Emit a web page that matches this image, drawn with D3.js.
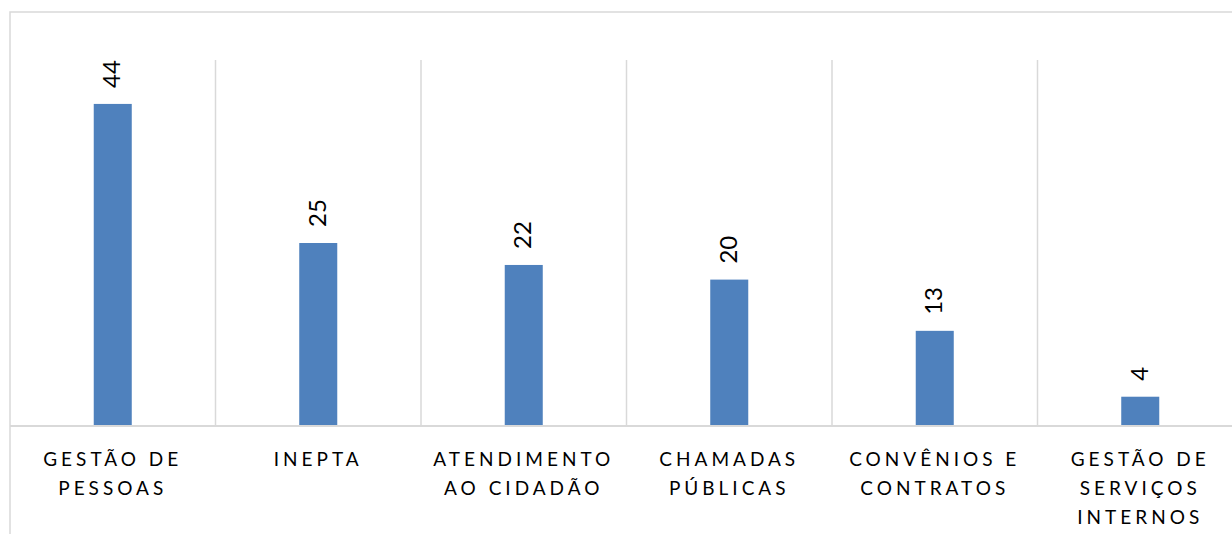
<!DOCTYPE html>
<html>
<head>
<meta charset="utf-8">
<script src="https://cdn.jsdelivr.net/npm/d3@7"></script>
<style>
  body { margin: 0; background: #fff; }
  svg { display: block; }
</style>
</head>
<body>
<div id="chart"></div>
<script>
// data
const categories = ["GESTÃO DE PESSOAS", "INEPTA", "ATENDIMENTO AO CIDADÃO", "CHAMADAS PÚBLICAS", "CONVÊNIOS E CONTRATOS", "GESTÃO DE SERVIÇOS INTERNOS"];
const values = [44, 25, 22, 20, 13, 4];
const yDomain = [0, 50];

const width = 1232, height = 534;
const plot = { left: 10, right: 1243, top: 60, bottom: 426 };
const gridColor = "#d9d9d9";

const svg = d3.select("#chart").append("svg")
  .attr("width", width)
  .attr("height", height);

const x = d3.scaleBand().domain(categories).range([plot.left, plot.right]);
const y = d3.scaleLinear().domain(yDomain).range([plot.bottom, plot.top]);

// chart area border (top + left)
svg.append("path")
  .attr("d", `M${plot.left},${height} V12 H${width}`)
  .attr("fill", "none")
  .attr("stroke", gridColor)
  .attr("stroke-width", 1.5);

// vertical gridlines between categories
svg.selectAll("line.grid")
  .data(categories.slice(1))
  .enter().append("line")
  .attr("class", "grid")
  .attr("x1", d => x(d)).attr("x2", d => x(d))
  .attr("y1", y(yDomain[1])).attr("y2", y(0))
  .attr("stroke", gridColor)
  .attr("stroke-width", 1.5);

// bars
const barW = x.bandwidth() * 0.185;
const data = categories.map((c, i) => ({ name: c, value: values[i] }));

svg.selectAll("rect.bar")
  .data(data)
  .enter().append("rect")
  .attr("class", "bar")
  .attr("x", d => x(d.name) + x.bandwidth() / 2 - barW / 2)
  .attr("y", d => y(d.value))
  .attr("width", barW)
  .attr("height", d => y(0) - y(d.value))
  .attr("fill", "#4f81bd");

// axis line
svg.append("line")
  .attr("x1", plot.left).attr("x2", width)
  .attr("y1", y(0)).attr("y2", y(0))
  .attr("stroke", gridColor)
  .attr("stroke-width", 2);

// value labels, rotated
svg.selectAll("text.val")
  .data(data)
  .enter().append("text")
  .attr("class", "val")
  .attr("transform", d => `translate(${x(d.name) + x.bandwidth() / 2 - 1},${y(d.value) - 16}) rotate(-90)`)
  .attr("dy", "0.35em")
  .attr("font-family", "Lato, 'Open Sans', sans-serif")
  .attr("font-size", 24)
  .attr("fill", "#000")
  .text(d => d.value);

// category labels, wrapped
const labels = svg.selectAll("text.cat")
  .data(categories)
  .enter().append("text")
  .attr("class", "cat")
  .attr("text-anchor", "middle")
  .attr("font-family", "Lato, 'Open Sans', sans-serif")
  .attr("font-size", 19)
  .attr("letter-spacing", "4px")
  .attr("fill", "#000");

labels.each(function(d) {
  const t = d3.select(this);
  const cx = x(d) + x.bandwidth() / 2;
  const maxW = x.bandwidth() * 0.95;
  const words = d.split(" ");
  let lines = [], cur = [];
  const probe = t.append("tspan");
  words.forEach(w => {
    const test = cur.concat([w]).join(" ");
    probe.text(test);
    if (probe.node().getComputedTextLength() > maxW && cur.length) {
      lines.push(cur.join(" "));
      cur = [w];
    } else {
      cur.push(w);
    }
  });
  lines.push(cur.join(" "));
  probe.remove();
  lines.forEach((ln, i) => {
    t.append("tspan")
      .attr("x", cx)
      .attr("y", y(0) + 40 + i * 29)
      .text(ln);
  });
});
</script>
</body>
</html>
